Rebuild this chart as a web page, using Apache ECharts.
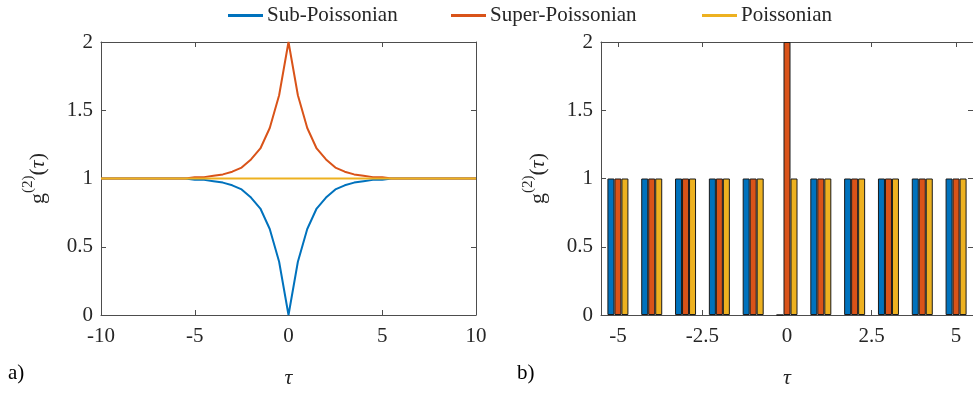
<!DOCTYPE html>
<html>
<head>
<meta charset="utf-8">
<script src="https://cdn.jsdelivr.net/npm/echarts@6/dist/echarts.min.js"></script>
<style>
  html, body { margin: 0; padding: 0; background: #fff; }
  #main { width: 973px; height: 394px; }
</style>
</head>
<body>
<div id="main"></div>
<script>
// left panel: g2 vs tau (line)
var tauLine = [-10, -9.5, -9, -8.5, -8, -7.5, -7, -6.5, -6, -5.5, -5, -4.5, -4, -3.5, -3, -2.5, -2, -1.5, -1, -0.5,
  0, 0.5, 1, 1.5, 2, 2.5, 3, 3.5, 4, 4.5, 5, 5.5, 6, 6.5, 7, 7.5, 8, 8.5, 9, 9.5, 10];
var subLine = [1.00, 1.00, 1.00, 1.00, 1.00, 1.00, 1.00, 1.00, 1.00, 1.00, 0.99, 0.99, 0.98, 0.97, 0.95, 0.92, 0.86, 0.78, 0.63, 0.39,
  0, 0.39, 0.63, 0.78, 0.86, 0.92, 0.95, 0.97, 0.98, 0.99, 0.99, 1.00, 1.00, 1.00, 1.00, 1.00, 1.00, 1.00, 1.00, 1.00, 1.00];
var superLine = [1.00, 1.00, 1.00, 1.00, 1.00, 1.00, 1.00, 1.00, 1.00, 1.00, 1.01, 1.01, 1.02, 1.03, 1.05, 1.08, 1.14, 1.22, 1.37, 1.61,
  2, 1.61, 1.37, 1.22, 1.14, 1.08, 1.05, 1.03, 1.02, 1.01, 1.01, 1.00, 1.00, 1.00, 1.00, 1.00, 1.00, 1.00, 1.00, 1.00, 1.00];
var poissonLine = [1, 1, 1, 1, 1, 1, 1, 1, 1, 1, 1, 1, 1, 1, 1, 1, 1, 1, 1, 1,
  1, 1, 1, 1, 1, 1, 1, 1, 1, 1, 1, 1, 1, 1, 1, 1, 1, 1, 1, 1, 1];

// right panel: bars at integer tau
var tauBar = [-5, -4, -3, -2, -1, 0, 1, 2, 3, 4, 5];
var subBar = [1, 1, 1, 1, 1, 0, 1, 1, 1, 1, 1];
var superBar = [1, 1, 1, 1, 1, 2, 1, 1, 1, 1, 1];
var poissonBar = [1, 1, 1, 1, 1, 1, 1, 1, 1, 1, 1];
var barTicks = [-5, -2.5, 0, 2.5, 5];

var names = ['Sub-Poissonian', 'Super-Poissonian', 'Poissonian'];
var colors = ['#0072BD', '#D95319', '#EDB120'];
var FONT = 'Liberation Serif';
var AX = '#4d4d4d';

function pairs(xs, ys) {
  return xs.map(function (x, i) { return [x, ys[i]]; });
}

var myChart = echarts.init(document.getElementById('main'));

var yName = '{g|g}{s|(2)}{g|(}{t|τ}{g|)}';
var yNameStyle = {
  fontFamily: FONT,
  color: '#262626',
  rich: {
    g: { fontSize: 22, fontFamily: FONT, color: '#262626', lineHeight: 28, verticalAlign: 'bottom' },
    s: { fontSize: 15, fontFamily: FONT, color: '#262626', lineHeight: 15, verticalAlign: 'top' },
    t: { fontSize: 22, fontFamily: FONT, fontStyle: 'italic', color: '#262626', lineHeight: 28, verticalAlign: 'bottom' }
  }
};

function mainX(idx, opts) {
  return Object.assign({
    gridIndex: idx,
    type: 'value',
    position: 'bottom',
    name: 'τ',
    nameLocation: 'middle',
    nameGap: 52,
    nameTextStyle: { fontFamily: FONT, fontSize: 22, fontStyle: 'italic', color: '#262626' },
    axisLine: { onZero: false, lineStyle: { color: AX, width: 1 } },
    axisTick: { inside: true, length: 5, lineStyle: { color: AX } },
    axisLabel: { fontFamily: FONT, fontSize: 21, color: '#262626', margin: 11 },
    splitLine: { show: false }
  }, opts);
}

function topX(idx, opts) {
  return Object.assign({
    gridIndex: idx,
    type: 'value',
    position: 'top',
    axisLine: { onZero: false, lineStyle: { color: AX, width: 1 } },
    axisTick: { inside: true, length: 5, lineStyle: { color: AX } },
    axisLabel: { show: false },
    splitLine: { show: false }
  }, opts);
}

function leftY(idx) {
  return {
    gridIndex: idx,
    type: 'value',
    position: 'left',
    min: 0, max: 2, interval: 0.5,
    name: yName,
    nameLocation: 'middle',
    nameGap: 52,
    nameRotate: 90,
    nameTextStyle: yNameStyle,
    axisLine: { show: true, onZero: false, lineStyle: { color: AX, width: 1 } },
    axisTick: { show: true, inside: true, length: 5, lineStyle: { color: AX } },
    axisLabel: { fontFamily: FONT, fontSize: 21, color: '#262626', margin: 8 },
    splitLine: { show: false }
  };
}

function rightY(idx) {
  return {
    gridIndex: idx,
    type: 'value',
    position: 'right',
    min: 0, max: 2, interval: 0.5,
    axisLine: { show: true, onZero: false, lineStyle: { color: AX, width: 1 } },
    axisTick: { show: true, inside: true, length: 5, lineStyle: { color: AX } },
    axisLabel: { show: false },
    splitLine: { show: false }
  };
}

function legendAt(i, left) {
  return {
    left: left,
    top: 0,
    data: [names[i]],
    icon: 'rect',
    itemWidth: 35,
    itemHeight: 3,
    itemGap: 0,
    textStyle: { fontFamily: FONT, fontSize: 21, color: '#262626', padding: [0, 0, 0, -1] },
    selectedMode: false
  };
}

var series = [];
[subLine, superLine, poissonLine].forEach(function (ys, i) {
  series.push({
    name: names[i],
    type: 'line',
    xAxisIndex: 0,
    yAxisIndex: 0,
    data: pairs(tauLine, ys),
    showSymbol: false,
    symbol: 'none',
    lineStyle: { width: 2, color: colors[i] },
    itemStyle: { color: colors[i] },
    z: 2 + i
  });
});
[subBar, superBar, poissonBar].forEach(function (ys, i) {
  series.push({
    name: names[i],
    type: 'bar',
    xAxisIndex: 2,
    yAxisIndex: 2,
    data: pairs(tauBar, ys),
    barWidth: 7,
    barGap: '0%',
    itemStyle: { color: colors[i], borderColor: '#1a1a1a', borderWidth: 1 }
  });
});

myChart.setOption({
  animation: false,
  color: colors,
  legend: [legendAt(0, 223), legendAt(1, 446), legendAt(2, 697)],
  grid: [
    { left: 101, top: 42, width: 375, height: 283 },
    { left: 601, top: 42, right: -2, height: 283 }
  ],
  xAxis: [
    mainX(0, { min: -10, max: 10, interval: 5 }),
    topX(0, { min: -10, max: 10, interval: 5 }),
    mainX(1, {
      min: -5.5, max: 5.5,
      axisLabel: { fontFamily: FONT, fontSize: 21, color: '#262626', margin: 11, customValues: barTicks },
      axisTick: { inside: true, length: 5, lineStyle: { color: AX }, customValues: barTicks }
    }),
    topX(1, {
      min: -5.5, max: 5.5,
      axisTick: { inside: true, length: 5, lineStyle: { color: AX }, customValues: barTicks }
    })
  ],
  yAxis: [leftY(0), rightY(0), leftY(1), rightY(1)],
  graphic: [
    { type: 'text', left: 8, top: 363, style: { text: 'a)', fontFamily: FONT, fontSize: 21, fill: '#000' } },
    { type: 'text', left: 517, top: 363, style: { text: 'b)', fontFamily: FONT, fontSize: 21, fill: '#000' } }
  ],
  series: series
});
</script>
</body>
</html>
